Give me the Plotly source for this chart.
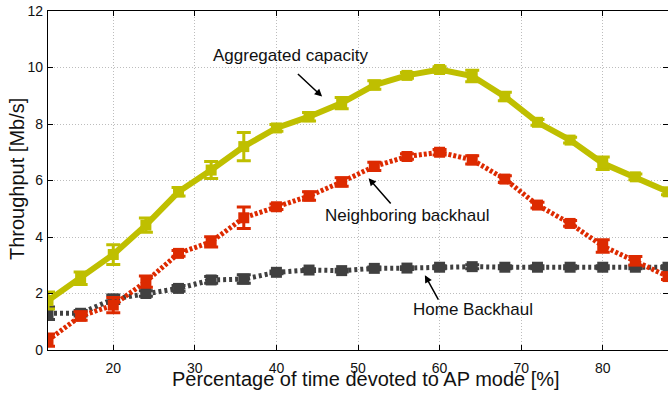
import plotly.graph_objects as go

x_pct = [12, 16, 20, 24, 28, 32, 36, 40, 44, 48, 52, 56, 60, 64, 68, 72, 76, 80, 84, 88]

agg_cap = [1.75, 2.54, 3.38, 4.42, 5.6, 6.37, 7.2, 7.86, 8.26, 8.74, 9.38, 9.72, 9.93, 9.7, 8.97, 8.06, 7.43, 6.61, 6.13, 5.6]
agg_err = [0.3, 0.22, 0.35, 0.25, 0.15, 0.3, 0.5, 0.12, 0.15, 0.2, 0.15, 0.1, 0.1, 0.2, 0.15, 0.1, 0.1, 0.22, 0.1, 0.1]

nbr_bh = [0.35, 1.2, 1.59, 2.42, 3.42, 3.83, 4.68, 5.07, 5.45, 5.95, 6.5, 6.85, 7.0, 6.73, 6.05, 5.13, 4.48, 3.68, 3.16, 2.6]
nbr_err = [0.22, 0.15, 0.27, 0.2, 0.1, 0.18, 0.38, 0.1, 0.15, 0.15, 0.15, 0.1, 0.1, 0.15, 0.12, 0.1, 0.1, 0.22, 0.15, 0.1]

home_bh = [1.3, 1.3, 1.8, 2.0, 2.18, 2.48, 2.51, 2.75, 2.83, 2.81, 2.89, 2.9, 2.93, 2.95, 2.93, 2.93, 2.93, 2.93, 2.93, 2.93]
home_err = [0.22, 0.1, 0.15, 0.1, 0.1, 0.12, 0.15, 0.05, 0.05, 0.05, 0.05, 0.05, 0.05, 0.07, 0.05, 0.05, 0.05, 0.05, 0.05, 0.05]

x_ticks = [20, 30, 40, 50, 60, 70, 80]
y_ticks = [0, 2, 4, 6, 8, 10, 12]

YEL = "#BFBF00"
RED = "#DD2A00"
GRY = "#404040"

fig = go.Figure()

def add_series(y, err, color, dash, width):
    fig.add_trace(go.Scatter(
        x=x_pct, y=y, mode="lines+markers",
        line=dict(color=color, width=width, dash=dash),
        marker=dict(symbol="square", size=11, color=color),
        error_y=dict(type="data", array=err, visible=True, color=color, thickness=3, width=7),
        showlegend=False,
    ))

add_series(home_bh, home_err, GRY, "3px,3px", 5)
add_series(nbr_bh, nbr_err, RED, "3px,2px", 5)
add_series(agg_cap, agg_err, YEL, "solid", 6)

font = "Liberation Sans, Arial, Helvetica, sans-serif"

annotations = [
    dict(x=41.7, y=10.42, text="Aggregated capacity", showarrow=False, font=dict(size=17, color="#111")),
    dict(x=56.0, y=4.76, text="Neighboring backhaul", showarrow=False, font=dict(size=17, color="#111")),
    dict(x=64.05, y=1.45, text="Home Backhaul", showarrow=False, font=dict(size=17, color="#111")),
    dict(x=45.6, y=8.97, ax=-25.7, ay=-24, text="", showarrow=True, arrowhead=2, arrowsize=1, arrowwidth=1.5, arrowcolor="black"),
    dict(x=51.3, y=6.08, ax=23.4, ay=26.7, text="", showarrow=True, arrowhead=2, arrowsize=1, arrowwidth=1.5, arrowcolor="black"),
    dict(x=58.2, y=2.65, ax=14.3, ay=26, text="", showarrow=True, arrowhead=2, arrowsize=1, arrowwidth=1.5, arrowcolor="black"),
    dict(x=(366 - 48) / 620, xref="paper", y=-(379 - 350) / 339, yref="paper",
         text="Percentage of time devoted to AP mode [%]", showarrow=False,
         font=dict(size=20, color="#111"), xanchor="center", yanchor="middle"),
    dict(x=-(48 - 17) / 620, xref="paper", y=(350 - 179) / 339, yref="paper",
         text="Throughput [Mb/s]", showarrow=False, textangle=-90,
         font=dict(size=20, color="#111"), xanchor="center", yanchor="middle"),
]

axis_common = dict(ticks="inside", ticklen=5, tickcolor="black",
                   showline=True, linecolor="black", linewidth=1.2, mirror="ticks",
                   showgrid=True, gridcolor="#BDBDBD", gridwidth=1, griddash="1px,2px", zeroline=False,
                   tickfont=dict(size=14, color="#111"))

fig.update_layout(
    width=668, height=393,
    margin=dict(l=48, r=0, t=11, b=43),
    paper_bgcolor="white", plot_bgcolor="white",
    font=dict(family=font, size=14, color="#111"),
    annotations=annotations,
    xaxis=dict(range=[12, 88], tickvals=x_ticks, ticklabelstandoff=5, **axis_common),
    yaxis=dict(range=[0, 12], tickvals=y_ticks, ticklabelstandoff=1, **axis_common),
)

fig.write_html("out.html")
